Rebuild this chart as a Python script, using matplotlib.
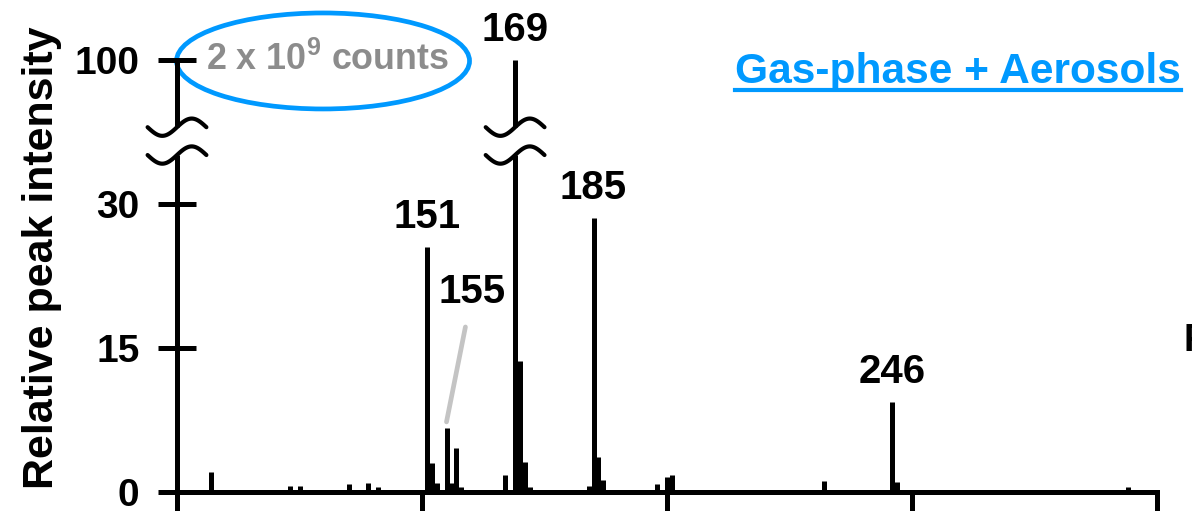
import numpy as np
import matplotlib
matplotlib.use("Agg")
import matplotlib.pyplot as plt
from matplotlib.patches import Ellipse
from matplotlib.lines import Line2D

plt.rcParams['font.family'] = 'Liberation Sans'
plt.rcParams['font.weight'] = 'bold'
plt.rcParams['mathtext.fontset'] = 'custom'
plt.rcParams['mathtext.rm'] = 'Liberation Sans:bold'
plt.rcParams['mathtext.bf'] = 'Liberation Sans:bold'

# mass spectrum peaks (m/z, relative intensity in %)
mz = [107, 123, 125, 135, 139, 141, 151, 152, 153, 155, 156, 157, 158, 167,
      169, 170, 171, 172, 184, 185, 186, 187, 198, 200, 201, 232, 246, 247, 294]
intensity = [2.1, 0.6, 0.6, 0.8, 0.9, 0.5, 25.5, 3.0, 0.9, 6.7, 0.9, 4.6, 0.5, 1.8,
             100, 13.6, 3.1, 0.5, 0.6, 28.5, 3.6, 1.25, 0.8, 1.6, 1.8, 1.1, 9.4, 1.0, 0.5]
labelled = [151, 169, 185, 246]
leader_peak = 155

ytick_values = [0, 15, 30, 100]
xtick_values = [100, 150, 200, 250, 300]

# broken y scale: linear up to 30, compressed above
BREAK_AT = 30.0
def to_axis(v):
    v = np.asarray(v, dtype=float)
    return np.where(v <= BREAK_AT, v, BREAK_AT + (v - BREAK_AT) * 15.0 / 70.0)

gap_lo, gap_hi = 35.1, 38.0   # gap in the axis / tall peak

BLUE = '#0099FF'
LW = 3.6

fig = plt.figure(figsize=(11.92, 5.11), dpi=100)
ax = fig.add_axes([177 / 1192, 19 / 511, 980 / 1192, 492 / 511])
ax.set_xlim(100, 300)
ax.set_ylim(0, 51.25)

for s in ['top', 'right', 'left']:
    ax.spines[s].set_visible(False)
ax.spines['bottom'].set_linewidth(LW)
ax.spines['bottom'].set_capstyle('projecting')

ax.set_xticks(xtick_values)
ax.tick_params(axis='x', direction='out', length=20, width=LW, labelbottom=False)
ax.set_yticks(to_axis(ytick_values))
ax.set_yticklabels([str(v) for v in ytick_values])
ax.tick_params(axis='y', direction='inout', length=28, width=LW, pad=13,
               labelsize=28)

ax.set_ylabel('Relative peak intensity', fontsize=31, fontweight='bold')
ax.yaxis.set_label_coords(-0.117, 0.477)

# y axis line with a break
top = float(to_axis(100))
ax.plot([100, 100], [0, gap_lo], color='black', lw=LW, solid_capstyle='butt', clip_on=False)
ax.plot([100, 100], [gap_hi, top], color='black', lw=LW, solid_capstyle='butt', clip_on=False)

def break_mark(x0, yb):
    t = np.linspace(-1, 1, 60)
    ax.plot(x0 + t * 6.0, yb + 0.9 * np.sin(np.pi * t), color='black', lw=3.0,
            solid_capstyle='round', clip_on=False)

# peaks
heights = to_axis(intensity)
for m, v, h in zip(mz, intensity, heights):
    if v > BREAK_AT + 15:
        ax.vlines(m, 0, gap_lo, color='black', lw=LW)
        ax.vlines(m, gap_hi, h, color='black', lw=LW)
        break_mark(m, gap_lo)
        break_mark(m, gap_hi)
    else:
        ax.vlines(m, 0, h, color='black', lw=LW)

break_mark(100, gap_lo)
break_mark(100, gap_hi)

for m in labelled:
    h = float(heights[mz.index(m)])
    ax.annotate(str(m), xy=(m, h), xytext=(0, 8), textcoords='offset points',
                ha='center', va='bottom', fontsize=29, fontweight='bold')

# peak 155 with a grey leader line
h155 = float(heights[mz.index(leader_peak)])
ax.annotate(str(leader_peak), xy=(leader_peak, h155 + 0.6), xytext=(160.3, 18.9),
            ha='center', va='bottom', fontsize=29, fontweight='bold',
            arrowprops=dict(arrowstyle='-', color='#C4C4C4', lw=3.4, shrinkA=10, shrinkB=0))

# full-scale count annotation
ax.text(106.0, top, r'2 x 10$^{9}$ counts', color='#8C8C8C', fontsize=25.8,
        fontweight='bold', ha='left', va='center')
ax.add_patch(Ellipse((129.8, 44.9), 59.8, 10.0, fill=False, edgecolor=BLUE,
                     lw=3.4, clip_on=False))

# panel title, underlined
title = fig.text(735 / 1192, 1 - 83 / 511, 'Gas-phase + Aerosols', color=BLUE,
                 fontsize=30.6, fontweight='bold', ha='left', va='baseline')
fig.canvas.draw()
bb = title.get_window_extent()
fig.add_artist(Line2D([bb.x0 / 1192, bb.x1 / 1192], [1 - 90 / 511, 1 - 90 / 511],
                      color=BLUE, lw=3, transform=fig.transFigure))

fig.text(1184 / 1192, 1 - 341 / 511, 'F', fontsize=27, fontweight='bold',
         ha='left', va='center')

fig.savefig('out.png', dpi=100)
